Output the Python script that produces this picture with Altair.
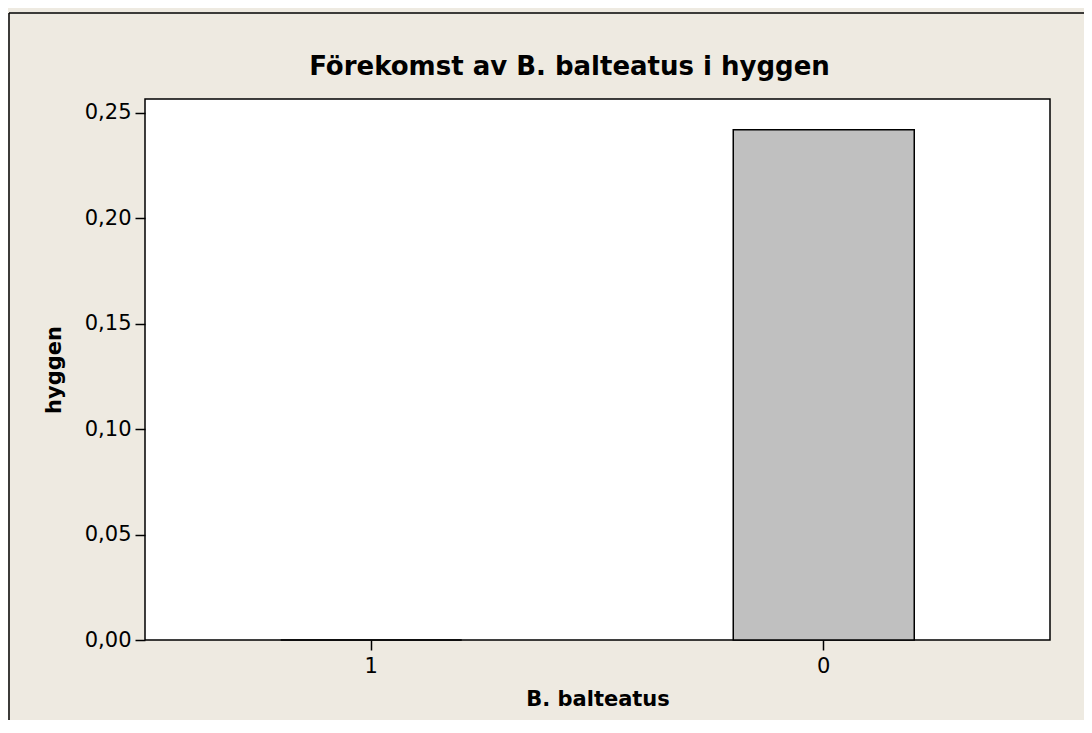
import altair as alt
import pandas as pd

categories = ["1", "0"]
values = [0.0, 0.242]
y_ticks = [0.0, 0.05, 0.10, 0.15, 0.20, 0.25]

df = pd.DataFrame({"cat": categories, "val": values})

W, H = 905, 541
FONT = "DejaVu Sans"

bars = alt.Chart(df).mark_bar(
    fill="#C0C0C0", stroke="black", strokeWidth=1.5
).encode(
    x=alt.X(
        "cat:N",
        sort=categories,
        scale=alt.Scale(paddingInner=0.6, paddingOuter=0.3),
        axis=alt.Axis(
            title="B. balteatus",
            labelAngle=0,
            labelPadding=5,
            titlePadding=12,
        ),
    ),
    y=alt.Y(
        "val:Q",
        scale=alt.Scale(domain=[0, 0.2566], nice=False, zero=True),
        axis=alt.Axis(
            title="hyggen",
            values=y_ticks,
            labelExpr="replace(format(datum.value, '.2f'), '.', ',')",
            labelPadding=4,
            titlePadding=20,
        ),
    ),
)

border_df = pd.DataFrame({"a": [0]})
left_border = alt.Chart(border_df).mark_rule(color="black", strokeWidth=1.5, clip=False).encode(
    x=alt.value(-136), y=alt.value(-86), y2=alt.value(H + 120)
)
top_border = alt.Chart(border_df).mark_rule(color="black", strokeWidth=1.5, clip=False).encode(
    x=alt.value(-136), x2=alt.value(W + 60), y=alt.value(-86)
)

chart = alt.layer(bars, left_border, top_border).properties(
    width=W,
    height=H,
    title=alt.TitleParams(
        "Förekomst av B. balteatus i hyggen",
        font=FONT,
        fontSize=26,
        fontWeight="bold",
        color="black",
        anchor="middle",
        frame="group",
        baseline="bottom",
        dx=-28,
        offset=-94,
    ),
    background="#EEEAE1",
    padding={"left": 137, "top": 91, "right": 34, "bottom": 80},
    autosize=alt.AutoSizeParams(type="none"),
).configure_view(
    fill="white", stroke="black", strokeWidth=1.5
).configure_axis(
    domain=False,
    grid=False,
    ticks=True,
    tickColor="black",
    tickWidth=1.5,
    tickSize=10,
    labelFont=FONT,
    labelFontSize=21,
    labelColor="black",
    titleFont=FONT,
    titleFontSize=21,
    titleFontWeight="bold",
    titleColor="black",
)

chart.save("out.html", embed_options={"renderer": "svg", "actions": False})
